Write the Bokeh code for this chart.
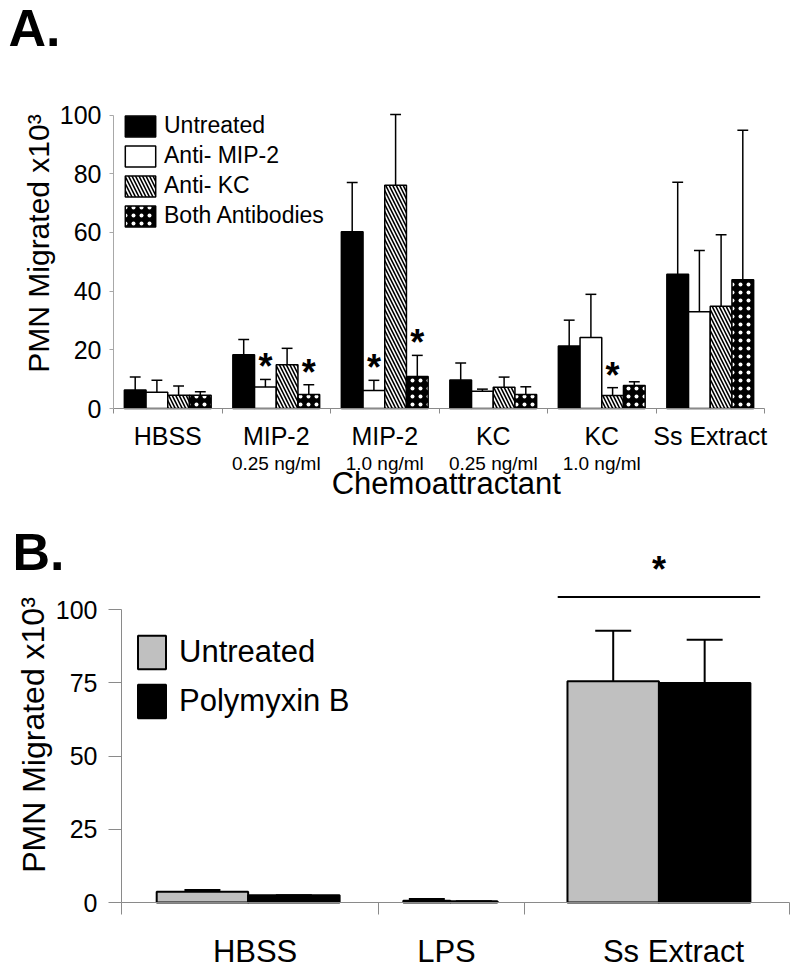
from bokeh.plotting import figure
from bokeh.models import Range1d, FixedTicker, ColumnDataSource, Legend, LegendItem
from bokeh.layouts import column
from bokeh.embed import file_html
from bokeh.resources import INLINE
from bokeh.core.properties import value

FONT = "Liberation Sans"

# ---------------- Panel A data ----------------
a_categories = ["HBSS", "MIP-2", "MIP-2", "KC", "KC", "Ss Extract"]
a_doses = ["", "0.25 ng/ml", "1.0 ng/ml", "0.25 ng/ml", "1.0 ng/ml", ""]
a_series = ["Untreated", "Anti- MIP-2", "Anti- KC", "Both Antibodies"]
a_untreated = [6.3, 18.3, 60.2, 9.7, 21.3, 45.7]
a_untreated_err = [4.4, 5.2, 16.8, 5.8, 8.8, 31.4]
a_anti_mip2 = [5.5, 7.3, 6.1, 5.9, 24.2, 33.0]
a_anti_mip2_err = [4.1, 2.6, 3.5, 0.7, 14.7, 20.8]
a_anti_kc = [4.5, 14.9, 76.1, 7.2, 4.4, 34.8]
a_anti_kc_err = [3.2, 5.6, 24.1, 3.5, 2.7, 24.4]
a_both = [4.5, 4.8, 10.9, 4.8, 7.8, 43.9]
a_both_err = [1.2, 3.3, 7.2, 2.6, 1.3, 50.9]
a_sig_untreated = [0, 0, 0, 0, 0, 0]
a_sig_anti_mip2 = [0, 1, 1, 0, 0, 0]
a_sig_anti_kc = [0, 0, 0, 0, 1, 0]
a_sig_both = [0, 1, 1, 0, 0, 0]
a_yticks = [0, 20, 40, 60, 80, 100]
a_ylabel = "PMN Migrated x10³"
a_xlabel = "Chemoattractant"

# ---------------- Panel B data ----------------
b_categories = ["HBSS", "LPS", "Ss Extract"]
b_series = ["Untreated", "Polymyxin B"]
b_untreated = [3.7, 0.6, 75.6]
b_untreated_err = [0.6, 0.6, 17.2]
b_polymyxin = [2.5, 0.4, 75.0]
b_polymyxin_err = [0.0, 0.0, 14.7]
b_sig = [0, 0, 1]
b_yticks = [0, 25, 50, 75, 100]
b_ylabel = "PMN Migrated x10³"

# ---------------- layout / style constants ----------------
AXIS_GRAY = "#8a8a8a"
W = 798
# panel A canvas: pixel of x=-0.5 and px per category, pixel of y=0 and px per unit
A_H, A_PX0, A_PXU, A_PY0, A_PYU = 516, 113.0, 108.5, 408.0, 2.935
# panel B canvas
B_H, B_PX0, B_PXU, B_PY0, B_PYU = 454, 121.0, 256.9, 386.0, 2.928
a_offsets = [-0.3, -0.1, 0.1, 0.3]
a_bar_w = 0.2
b_edges = [0.0, 1.0, 1.57, 2.6]
b_group_x = [0.493, 1.28, 2.092]
b_bar_w = [0.356, 0.183, 0.356]
b_label_x = [0.52, 1.265, 2.149]


def ax(px):
    return -0.5 + (px - A_PX0) / A_PXU


def ay(py):
    return (A_PY0 - py) / A_PYU


def bx(px):
    return (px - B_PX0) / B_PXU


def by(py):
    return (B_PY0 - py) / B_PYU


def text(p, x, y, t, size, **kw):
    p.text(x=[x], y=[y], text=[t], text_font=value(FONT), text_font_size=size, text_color="black", **kw)


# =============== Panel A ===============
pA = figure(width=W, height=A_H, x_range=Range1d(ax(0), ax(W)), y_range=Range1d(ay(A_H), ay(0)),
            output_backend="svg", toolbar_location=None, title=None,
            min_border_left=0, min_border_right=0, min_border_top=0, min_border_bottom=0)
pA.outline_line_color = None
pA.xgrid.visible = False
pA.ygrid.visible = False

a_styles = [
    dict(fill_color="black"),
    dict(fill_color="white"),
    dict(fill_color="white", hatch_pattern="left_diagonal_line", hatch_color="black", hatch_scale=7, hatch_weight=1.6),
    dict(fill_color="black", hatch_pattern="dot", hatch_color="white", hatch_scale=8, hatch_weight=1.6),
]
a_vals = [a_untreated, a_anti_mip2, a_anti_kc, a_both]
a_errs = [a_untreated_err, a_anti_mip2_err, a_anti_kc_err, a_both_err]
a_sigs = [a_sig_untreated, a_sig_anti_mip2, a_sig_anti_kc, a_sig_both]

legend_items_a = []
for s, name in enumerate(a_series):
    xs = [i + a_offsets[s] for i in range(len(a_categories))]
    src = ColumnDataSource(dict(x=xs, top=a_vals[s]))
    r = pA.vbar(x="x", top="top", width=a_bar_w, source=src, line_color="black", line_width=1.5, **a_styles[s])
    legend_items_a.append(LegendItem(label=name, renderers=[r]))

for s in range(len(a_series)):
    xs = [i + a_offsets[s] for i in range(len(a_categories))]
    tops = [v + e for v, e in zip(a_vals[s], a_errs[s])]
    pA.segment(x0=xs, y0=a_vals[s], x1=xs, y1=tops, line_color="black", line_width=1.5)
    pA.segment(x0=[x - 0.05 for x in xs], y0=tops, x1=[x + 0.05 for x in xs], y1=tops,
               line_color="black", line_width=1.5)
    sx = [x for x, f in zip(xs, a_sigs[s]) if f]
    sy = [t + 7 for t, f in zip(tops, a_sigs[s]) if f]
    pA.text(x=sx, y=sy, text=["*"] * len(sx), text_font=value(FONT), text_font_style="bold",
            text_font_size="36px", text_color="black", text_align="center",
            text_baseline="alphabetic", y_offset=8)

legA = Legend(items=legend_items_a, location=(121, A_H - 229), glyph_width=38, glyph_height=26,
              label_text_font=FONT, label_text_font_size="23px", label_text_color="black",
              spacing=3, padding=0, margin=0,
              border_line_color=None, background_fill_alpha=0, label_standoff=5)
pA.add_layout(legA, "center")

xa = pA.xaxis[0]
xa.fixed_location = 0
xa.bounds = (-0.5, len(a_categories) - 0.5)
xa.ticker = FixedTicker(ticks=list(range(len(a_categories))),
                        minor_ticks=[i - 0.5 for i in range(len(a_categories) + 1)])
xa.major_label_overrides = {i: c for i, c in enumerate(a_categories)}
xa.major_tick_line_color = None
xa.major_tick_out = 0
xa.major_tick_in = 0
xa.minor_tick_line_color = AXIS_GRAY
xa.minor_tick_out = 5
xa.minor_tick_in = 0
xa.axis_line_color = AXIS_GRAY
xa.major_label_text_font = FONT
xa.major_label_text_font_size = "25px"
xa.major_label_text_color = "black"
xa.major_label_standoff = 8

ya = pA.yaxis[0]
ya.fixed_location = -0.5
ya.ticker = FixedTicker(ticks=a_yticks, minor_ticks=[])
ya.bounds = (0, 100)
ya.axis_line_color = "#a8a8a8"
ya.major_tick_line_color = "#a8a8a8"
ya.major_tick_out = 4
ya.major_tick_in = 0
ya.minor_tick_line_color = None
ya.major_label_text_font = FONT
ya.major_label_text_font_size = "25px"
ya.major_label_text_color = "black"
ya.major_label_standoff = 8

dose_x = [i for i, d in enumerate(a_doses) if d]
pA.text(x=dose_x, y=[ay(463)] * len(dose_x), text=[d for d in a_doses if d], text_font=value(FONT),
        text_font_size="19px", text_color="black", text_align="center", text_baseline="alphabetic")
text(pA, ax(445.8), ay(483), a_xlabel, "31px", text_align="center", text_baseline="alphabetic")
text(pA, ax(38), ay(243), a_ylabel, "30px", text_align="center", text_baseline="middle", angle=1.5708)
text(pA, ax(8), ay(27), "A.", "52px", text_font_style="bold", text_align="left", text_baseline="alphabetic")

# =============== Panel B ===============
pB = figure(width=W, height=B_H, x_range=Range1d(bx(0), bx(W)), y_range=Range1d(by(B_H), by(0)),
            output_backend="svg", toolbar_location=None, title=None,
            min_border_left=0, min_border_right=0, min_border_top=0, min_border_bottom=0)
pB.outline_line_color = None
pB.xgrid.visible = False
pB.ygrid.visible = False

bx_u = [g - w / 2 for g, w in zip(b_group_x, b_bar_w)]
bx_p = [g + w / 2 for g, w in zip(b_group_x, b_bar_w)]
rB1 = pB.vbar(x=bx_u, top=b_untreated, width=b_bar_w, fill_color="#c0c0c0", line_color="black", line_width=2)
rB2 = pB.vbar(x=bx_p, top=b_polymyxin, width=b_bar_w, fill_color="black", line_color="black", line_width=2)
for xs, vals, errs in [(bx_u, b_untreated, b_untreated_err), (bx_p, b_polymyxin, b_polymyxin_err)]:
    tops = [v + e for v, e in zip(vals, errs)]
    pB.segment(x0=xs, y0=vals, x1=xs, y1=tops, line_color="black", line_width=2)
    pB.segment(x0=[x - 0.07 for x in xs], y0=tops, x1=[x + 0.07 for x in xs], y1=tops,
               line_color="black", line_width=2)

sig_x = [g for g, f in zip(b_group_x, b_sig) if f]
sig_top = [max(u + ue, p + pe) for u, ue, p, pe, f in
           zip(b_untreated, b_untreated_err, b_polymyxin, b_polymyxin_err, b_sig) if f]
pB.segment(x0=[x - 0.394 for x in sig_x], y0=[t + 11.5 for t in sig_top],
           x1=[x + 0.394 for x in sig_x], y1=[t + 11.5 for t in sig_top], line_color="black", line_width=2)
pB.text(x=sig_x, y=[t + 23.5 for t in sig_top], text=["*"] * len(sig_x), text_font=value(FONT),
        text_font_style="bold", text_font_size="36px", text_color="black", text_align="center",
        text_baseline="alphabetic", y_offset=8)

legB = Legend(items=[LegendItem(label=b_series[0], renderers=[rB1]),
                     LegendItem(label=b_series[1], renderers=[rB2])],
              location=(134, B_H - 206), glyph_width=35, glyph_height=42,
              label_text_font=FONT, label_text_font_size="31px", label_text_color="black",
              spacing=7, padding=0, margin=0,
              border_line_color=None, background_fill_alpha=0, label_standoff=10)
pB.add_layout(legB, "center")

xb = pB.xaxis[0]
xb.fixed_location = 0
xb.bounds = (b_edges[0], b_edges[-1])
xb.ticker = FixedTicker(ticks=b_label_x, minor_ticks=b_edges)
xb.major_label_overrides = {x: c for x, c in zip(b_label_x, b_categories)}
xb.major_tick_line_color = None
xb.major_tick_out = 0
xb.major_tick_in = 0
xb.minor_tick_line_color = AXIS_GRAY
xb.minor_tick_out = 12
xb.minor_tick_in = 0
xb.axis_line_color = AXIS_GRAY
xb.major_label_text_font = FONT
xb.major_label_text_font_size = "31px"
xb.major_label_text_color = "black"
xb.major_label_standoff = 19

yb = pB.yaxis[0]
yb.fixed_location = 0
yb.ticker = FixedTicker(ticks=b_yticks, minor_ticks=[])
yb.bounds = (0, 100)
yb.axis_line_color = AXIS_GRAY
yb.major_tick_line_color = AXIS_GRAY
yb.major_tick_out = 13
yb.major_tick_in = 0
yb.minor_tick_line_color = None
yb.major_label_text_font = FONT
yb.major_label_text_font_size = "25px"
yb.major_label_text_color = "black"
yb.major_label_standoff = 11

text(pB, bx(33), by(218.5), b_ylabel, "32px", text_align="center", text_baseline="middle", angle=1.5708)
text(pB, bx(12), by(35.7), "B.", "52px", text_font_style="bold", text_align="left", text_baseline="alphabetic")

layout = column(pA, pB, spacing=0)
open("out.html", "w").write(file_html(layout, INLINE))
